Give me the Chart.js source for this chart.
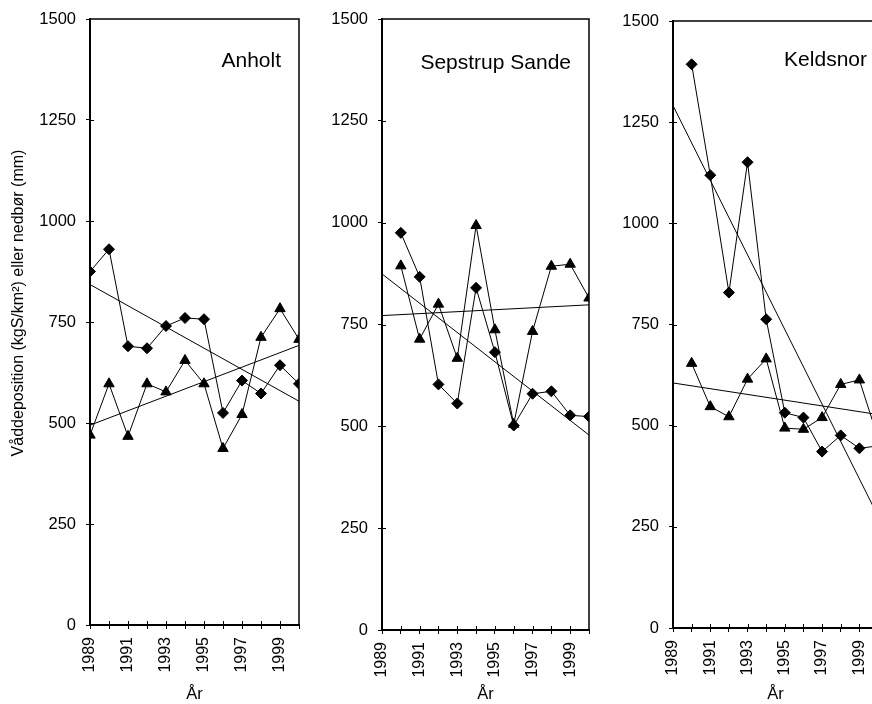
<!DOCTYPE html>
<html>
<head>
<meta charset="utf-8">
<script src="https://cdn.jsdelivr.net/npm/chart.js@4/dist/chart.umd.min.js"></script>
<style>
  html, body { margin: 0; padding: 0; background: #fff; overflow: hidden; }
  #wrap { position: relative; width: 872px; height: 704px; overflow: hidden; }
  .panel { position: absolute; top: 0; height: 704px; }
</style>
</head>
<body>
<div id="wrap">
  <div class="panel" style="left:0;width:306px"><canvas id="c1"></canvas></div>
  <div class="panel" style="left:306px;width:294px"><canvas id="c2"></canvas></div>
  <div class="panel" style="left:600px;width:300px"><canvas id="c3"></canvas></div>
</div>
<script>
// data
const years = [1989, 1990, 1991, 1992, 1993, 1994, 1995, 1996, 1997, 1998, 1999, 2000];
const xLabels = [1989, 1991, 1993, 1995, 1997, 1999];
const yTicks = [0, 250, 500, 750, 1000, 1250, 1500];

const anholtDiamond = [875, 930, 690, 685, 740, 760, 757, 525, 605, 573, 643, 597];
const anholtTriangle = [470, 597, 467, 597, 577, 655, 597, 437, 521, 712, 783, 707];

const sepstrupDiamond = [null, 975, 867, 603, 556, 840, 682, 502, 580, 586, 527, 524];
const sepstrupTriangle = [null, 894, 714, 800, 667, 993, 737, 505, 733, 893, 898, 815];

const keldsnorDiamond = [null, 1393, 1119, 829, 1151, 763, 532, 520, 436, 476, 444, 450];
const keldsnorTriangle = [null, 654, 547, 522, 615, 665, 494, 491, 520, 602, 613, 470];

const FONT = '"Liberation Sans", Arial, sans-serif';

function points(vals) {
  return years.map((y, i) => ({ x: y, y: vals[i] })).filter(p => p.y !== null);
}

// least squares trend over the whole axis
function trend(vals) {
  const pts = points(vals);
  const n = pts.length;
  const mx = pts.reduce((s, p) => s + p.x, 0) / n;
  const my = pts.reduce((s, p) => s + p.y, 0) / n;
  let sxy = 0, sxx = 0;
  pts.forEach(p => { sxy += (p.x - mx) * (p.y - my); sxx += (p.x - mx) * (p.x - mx); });
  const b = sxy / sxx, a = my - b * mx;
  const x0 = years[0], x1 = years[years.length - 1];
  return [{ x: x0, y: a + b * x0 }, { x: x1, y: a + b * x1 }];
}

function series(vals, style, r) {
  return {
    data: points(vals),
    showLine: true,
    borderColor: '#000',
    backgroundColor: '#000',
    borderWidth: 1,
    pointStyle: style,
    pointRadius: r,
    pointHoverRadius: r,
    pointBorderWidth: 1
  };
}

function trendLine(vals) {
  return {
    data: trend(vals),
    showLine: true,
    borderColor: '#000',
    borderWidth: 1,
    pointRadius: 0,
    pointHoverRadius: 0
  };
}

// frame, inner tick halves, station name and (first panel) y title
const panelDecor = {
  id: 'panelDecor',
  afterDraw(chart, args, opts) {
    const { ctx, chartArea: a, scales } = chart;
    ctx.save();
    ctx.strokeStyle = '#000';
    ctx.lineWidth = 1.5;
    ctx.strokeRect(a.left, a.top, a.right - a.left, a.bottom - a.top);

    ctx.lineWidth = 1;
    ctx.beginPath();
    scales.y.ticks.forEach(t => {
      const py = Math.round(scales.y.getPixelForValue(t.value)) + 0.5;
      if (t.value > 0 && t.value < yTicks[yTicks.length - 1]) { ctx.moveTo(a.left, py); ctx.lineTo(a.left + 4, py); }
    });
    scales.x.ticks.forEach(t => {
      const px = Math.round(scales.x.getPixelForValue(t.value)) + 0.5;
      if (t.value > years[0] && t.value < years[years.length - 1]) { ctx.moveTo(px, a.bottom); ctx.lineTo(px, a.bottom - 4); }
    });
    ctx.stroke();

    ctx.fillStyle = '#000';
    ctx.font = '21px ' + FONT;
    ctx.textAlign = 'right';
    ctx.textBaseline = 'alphabetic';
    ctx.fillText(opts.title, a.right - opts.dx, a.top + opts.dy);
    if (opts.yTitle) {
      ctx.translate(19, 303);
      ctx.rotate(-Math.PI / 2);
      ctx.font = '16px ' + FONT;
      ctx.textAlign = 'center';
      ctx.textBaseline = 'middle';
      ctx.fillText(opts.yTitle, 0, 0);
    }
    ctx.restore();
  }
};

function makeChart(id, diamond, triangle, deco, box) {
  return new Chart(document.getElementById(id), {
    type: 'scatter',
    data: {
      datasets: [
        series(diamond, 'rectRot', 5.5),
        series(triangle, 'triangle', 6),
        trendLine(diamond),
        trendLine(triangle)
      ]
    },
    options: {
      responsive: true,
      maintainAspectRatio: false,
      animation: false,
      events: [],
      layout: { padding: { top: box.top, right: box.right, left: 0, bottom: 0 } },
      plugins: { legend: { display: false }, tooltip: { enabled: false }, panelDecor: deco },
      scales: {
        x: {
          type: 'linear',
          min: years[0],
          max: years[years.length - 1],
          border: { display: true, color: '#000', width: 2 },
          grid: { display: true, drawOnChartArea: false, drawTicks: true, tickLength: 4, tickColor: '#000', tickWidth: 1 },
          ticks: {
            stepSize: 1,
            autoSkip: false,
            minRotation: 90,
            maxRotation: 90,
            padding: 8,
            color: '#000',
            font: { family: FONT, size: 16 },
            callback: v => xLabels.includes(v) ? String(v) : ''
          },
          title: { display: true, text: 'År', color: '#000', font: { family: FONT, size: 16.5 }, padding: { top: 0, bottom: 0 } },
          afterFit: s => { s.height = box.xh; s.paddingLeft = 0; s.paddingRight = 0; }
        },
        y: {
          min: yTicks[0],
          max: yTicks[yTicks.length - 1],
          border: { display: true, color: '#000', width: 2 },
          grid: { display: true, drawOnChartArea: false, drawTicks: true, tickLength: 4, tickColor: '#000', tickWidth: 1 },
          afterBuildTicks: s => { s.ticks = yTicks.map(v => ({ value: v })); },
          ticks: { padding: 10, color: '#000', font: { family: FONT, size: 16.5 }, callback: v => String(v) },
          afterFit: s => { s.width = box.yw; s.paddingTop = 0; s.paddingBottom = 0; }
        }
      }
    },
    plugins: [panelDecor]
  });
}

makeChart('c1', anholtDiamond, anholtTriangle,
  { title: 'Anholt', dx: 18, dy: 48, yTitle: 'Våddeposition (kgS/km²) eller nedbør (mm)' },
  { top: 19, right: 6, yw: 90, xh: 79 });
makeChart('c2', sepstrupDiamond, sepstrupTriangle,
  { title: 'Sepstrup Sande', dx: 18, dy: 50 },
  { top: 19, right: 11, yw: 76, xh: 74 });
makeChart('c3', keldsnorDiamond, keldsnorTriangle,
  { title: 'Keldsnor', dx: 11, dy: 45 },
  { top: 21, right: 22, yw: 73, xh: 76 });
</script>
</body>
</html>
